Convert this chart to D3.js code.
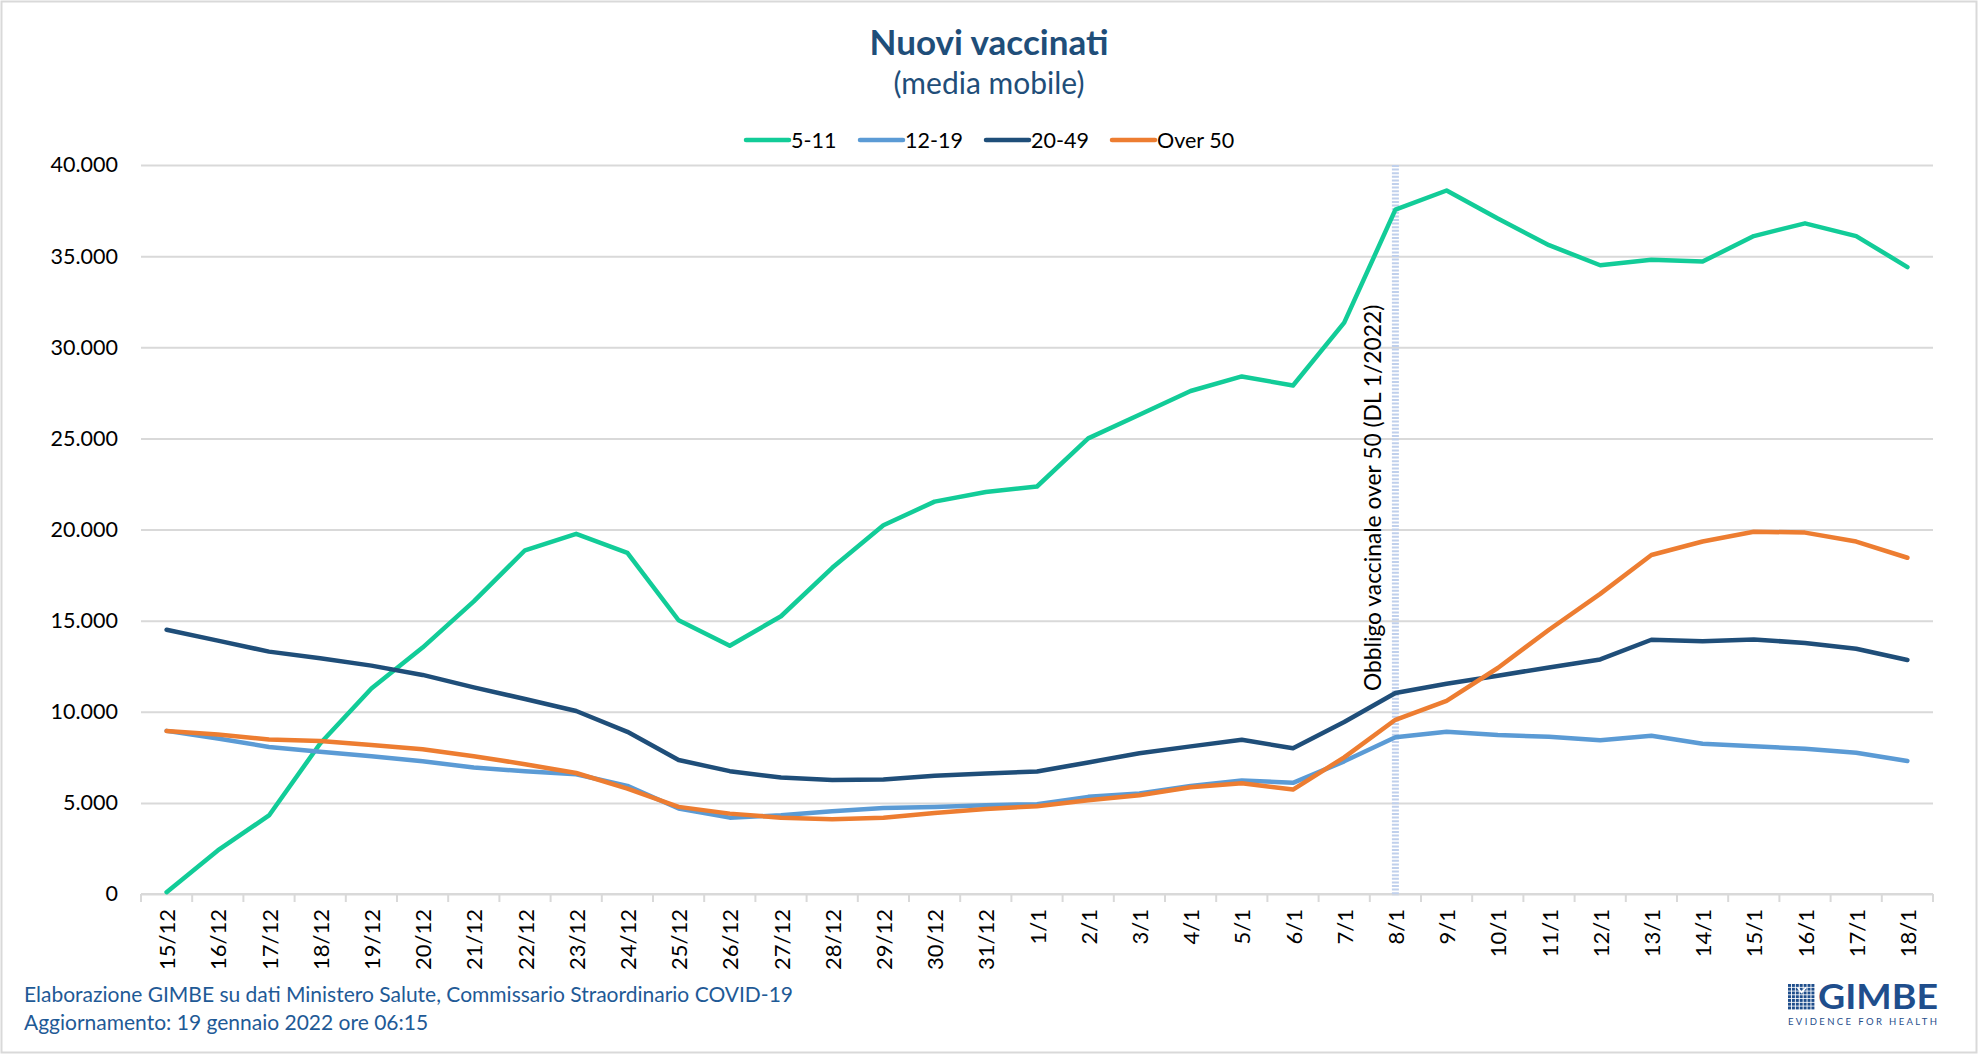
<!DOCTYPE html>
<html lang="it">

<head>
    <meta charset="UTF-8">
    <title>Nuovi vaccinati</title>
    <script src="https://d3js.org/d3.v7.min.js"></script>
    <style>
        body { margin: 0; background: #fff; }
        svg { display: block; }
        text { font-family: Lato, "Open Sans", sans-serif; }
    </style>
</head>

<body>

    <svg width="1978" height="1054" id="chart"></svg>

    <script>
        // giorni (15 dicembre 2021 - 18 gennaio 2022)
        const days = ["15/12", "16/12", "17/12", "18/12", "19/12", "20/12", "21/12", "22/12", "23/12",
            "24/12", "25/12", "26/12", "27/12", "28/12", "29/12", "30/12", "31/12",
            "1/1", "2/1", "3/1", "4/1", "5/1", "6/1", "7/1", "8/1", "9/1", "10/1", "11/1",
            "12/1", "13/1", "14/1", "15/1", "16/1", "17/1", "18/1"];

        // nuovi vaccinati, media mobile
        const age5_11 = [100, 2390, 4310, 8260, 11280, 13520, 16060, 18860, 19760, 18720, 15020, 13620,
            15240, 17900, 20230, 21530, 22060, 22360, 25000, 26300, 27600, 28400, 27900, 31350,
            37550, 38600, 37060, 35600, 34500, 34800, 34700, 36100, 36800, 36100, 34400];
        const age12_19 = [8950, 8530, 8070, 7800, 7560, 7280, 6940, 6730, 6570, 5930, 4690, 4190,
            4320, 4540, 4720, 4780, 4870, 4930, 5330, 5510, 5930, 6230, 6100, 7280,
            8600, 8900, 8720, 8630, 8430, 8680, 8240, 8110, 7970, 7750, 7300];
        const age20_49 = [14500, 13900, 13300, 12940, 12530, 12020, 11340, 10700, 10040, 8900, 7350, 6740,
            6390, 6250, 6280, 6490, 6610, 6720, 7220, 7720, 8100, 8460, 8000, 9440,
            11030, 11540, 11980, 12430, 12870, 13950, 13870, 13970, 13770, 13460, 12840];
        const over50 = [8940, 8750, 8480, 8390, 8170, 7940, 7560, 7120, 6640, 5780, 4780, 4410,
            4190, 4100, 4190, 4450, 4670, 4820, 5150, 5420, 5860, 6080, 5730, 7500,
            9560, 10600, 12400, 14500, 16470, 18600, 19340, 19880, 19830, 19340, 18450];

        const yTicks = [0, 5000, 10000, 15000, 20000, 25000, 30000, 35000, 40000];

        const series = [
            { name: "5-11", values: age5_11, color: "#12cc98" },
            { name: "12-19", values: age12_19, color: "#5b9bd5" },
            { name: "20-49", values: age20_49, color: "#1f4e79" },
            { name: "Over 50", values: over50, color: "#ed7d31" }
        ];

        const markerDay = "8/1";
        const markerText = "Obbligo vaccinale over 50 (DL 1/2022)";

        const svg = d3.select("#chart");
        const W = +svg.attr("width");
        const H = +svg.attr("height");

        const plot = { left: 141, right: 1933, top: 165, bottom: 894 };

        const it = d3.formatLocale({ decimal: ",", thousands: ".", grouping: [3], currency: ["€", ""] });
        const fmt = it.format(",d");

        const x = d3.scaleBand().domain(days).range([plot.left, plot.right]);
        const y = d3.scaleLinear().domain([0, 40000]).range([plot.bottom, plot.top]);

        // bordo del grafico
        svg.append("rect")
            .attr("x", 1.5).attr("y", 1.5)
            .attr("width", W - 3).attr("height", H - 3)
            .attr("fill", "#fff")
            .attr("stroke", "#d9d9d9")
            .attr("stroke-width", 2);

        // titolo
        svg.append("text")
            .attr("x", 989).attr("y", 55)
            .attr("text-anchor", "middle")
            .attr("font-size", 35).attr("font-weight", 700)
            .attr("fill", "#1f4e79")
            .text("Nuovi vaccinati");
        svg.append("text")
            .attr("x", 989).attr("y", 94)
            .attr("text-anchor", "middle")
            .attr("font-size", 30)
            .attr("fill", "#1f4e79")
            .text("(media mobile)");

        // griglia + etichette asse y
        const yAxis = d3.axisLeft(y).tickValues(yTicks).tickFormat(fmt)
            .tickSize(-(plot.right - plot.left)).tickPadding(23);
        const gy = svg.append("g")
            .attr("transform", `translate(${plot.left},0)`)
            .call(yAxis);
        gy.select(".domain").remove();
        gy.selectAll(".tick line").attr("stroke", "#d9d9d9").attr("stroke-width", 2);
        gy.selectAll(".tick text")
            .attr("font-family", "Lato, sans-serif")
            .attr("font-size", 21.5)
            .attr("fill", "#000");

        // asse x con tacche ai confini delle categorie
        const gx = svg.append("g");
        gx.append("line")
            .attr("x1", plot.left).attr("x2", plot.right)
            .attr("y1", plot.bottom).attr("y2", plot.bottom)
            .attr("stroke", "#d9d9d9").attr("stroke-width", 2);
        const bounds = days.map(d => x(d)).concat([x(days[days.length - 1]) + x.bandwidth()]);
        gx.selectAll(".xtick")
            .data(bounds)
            .enter().append("line")
            .attr("x1", d => d).attr("x2", d => d)
            .attr("y1", plot.bottom).attr("y2", plot.bottom + 8)
            .attr("stroke", "#d9d9d9").attr("stroke-width", 2);
        gx.selectAll(".xlabel")
            .data(days)
            .enter().append("text")
            .attr("transform", d => `translate(${x(d) + x.bandwidth() / 2},${plot.bottom + 15}) rotate(-90)`)
            .attr("text-anchor", "end")
            .attr("dominant-baseline", "central")
            .attr("font-size", 22)
            .attr("fill", "#000")
            .text(d => d);

        // linea obbligo vaccinale
        const mx = x(markerDay) + x.bandwidth() / 2;
        svg.append("line")
            .attr("x1", mx).attr("x2", mx)
            .attr("y1", plot.top).attr("y2", plot.bottom + 2)
            .attr("stroke", "#c0d0ec")
            .attr("stroke-width", 7)
            .attr("stroke-dasharray", "2,1.6");
        svg.append("text")
            .attr("transform", `translate(${mx - 14},691) rotate(-90)`)
            .attr("text-anchor", "start")
            .attr("font-size", 22.8)
            .attr("fill", "#000")
            .text(markerText);

        // serie
        const line = d3.line()
            .x((d, i) => x(days[i]) + x.bandwidth() / 2)
            .y(d => y(d));

        svg.selectAll(".series")
            .data(series)
            .enter().append("path")
            .attr("class", "series")
            .attr("d", d => line(d.values))
            .attr("fill", "none")
            .attr("stroke", d => d.color)
            .attr("stroke-width", 4.5)
            .attr("stroke-linejoin", "round")
            .attr("stroke-linecap", "round");

        // legenda
        const legendX = [746, 860, 986, 1112];
        const lg = svg.selectAll(".legend")
            .data(series)
            .enter().append("g")
            .attr("transform", (d, i) => `translate(${legendX[i]},140)`);
        lg.append("line")
            .attr("x1", 0).attr("x2", 43)
            .attr("stroke", d => d.color)
            .attr("stroke-width", 4.5)
            .attr("stroke-linecap", "round");
        lg.append("text")
            .attr("x", 45).attr("y", 7.5)
            .attr("font-size", 21.5)
            .attr("fill", "#000")
            .text(d => d.name);

        // fonte
        svg.append("text")
            .attr("x", 24).attr("y", 1002)
            .attr("font-size", 21)
            .attr("fill", "#1f5a96")
            .text("Elaborazione GIMBE su dati Ministero Salute, Commissario Straordinario COVID-19");
        svg.append("text")
            .attr("x", 24).attr("y", 1030)
            .attr("font-size", 21)
            .attr("fill", "#1f5a96")
            .text("Aggiornamento: 19 gennaio 2022 ore 06:15");

        // logo GIMBE
        const logo = svg.append("g").attr("transform", "translate(1788,984)");
        const cells = d3.range(49).map(i => ({ c: i % 7, r: Math.floor(i / 7) }));
        logo.selectAll("rect")
            .data(cells)
            .enter().append("rect")
            .attr("x", d => d.c * 3.9)
            .attr("y", d => d.r * 3.75)
            .attr("width", 3)
            .attr("height", 2.9)
            .attr("fill", "#1f4e8c");
        logo.append("polyline")
            .attr("points", "9.5,3.5 13.5,8.5 18,3.5")
            .attr("fill", "none")
            .attr("stroke", "#fff")
            .attr("stroke-width", 1.6);
        logo.append("text")
            .attr("x", 30).attr("y", 24.5)
            .attr("font-family", "'Liberation Serif', serif")
            .attr("font-weight", 700)
            .attr("font-size", 34)
            .attr("textLength", 120)
            .attr("lengthAdjust", "spacingAndGlyphs")
            .attr("fill", "#1f4e8c")
            .text("GIMBE");
        logo.append("text")
            .attr("x", 0).attr("y", 41)
            .attr("font-family", "'DejaVu Sans', sans-serif")
            .attr("font-size", 9.5)
            .attr("textLength", 149)
            .attr("lengthAdjust", "spacing")
            .attr("fill", "#1f4e8c")
            .text("EVIDENCE FOR HEALTH");
    </script>

</body>

</html>
